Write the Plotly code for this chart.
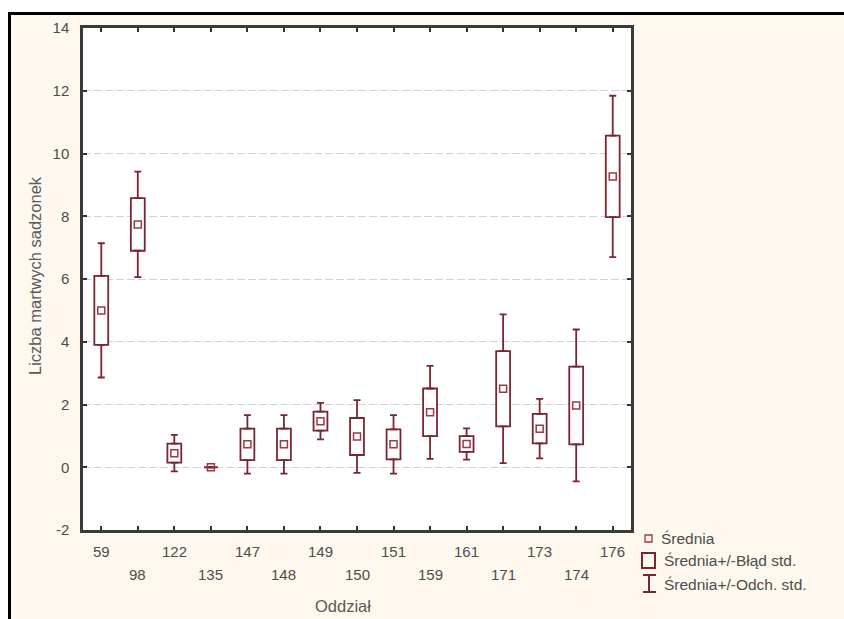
import plotly.graph_objects as go

# Mortality of seedlings per forest compartment: mean, standard error, standard deviation
oddzial = ["59", "98", "122", "135", "147", "148", "149", "150",
           "151", "159", "161", "171", "173", "174", "176"]
srednia = [5.0, 7.74, 0.45, 0.0, 0.73, 0.73, 1.47, 0.98,
           0.73, 1.75, 0.74, 2.5, 1.23, 1.97, 9.27]
blad_std = [1.1, 0.84, 0.3, 0.0, 0.5, 0.5, 0.3, 0.59,
            0.48, 0.76, 0.25, 1.2, 0.47, 1.24, 1.3]
odch_std = [2.14, 1.68, 0.58, 0.0, 0.93, 0.93, 0.58, 1.16,
            0.93, 1.48, 0.5, 2.37, 0.95, 2.42, 2.57]

y_ticks = [-2, 0, 2, 4, 6, 8, 10, 12, 14]

BOX_COLOR = "#7b2532"
MEAN_COLOR = "#9a3a45"
TEXT_COLOR = "#4d4d4d"
FONT = "Liberation Sans, Arial, sans-serif"

W, H = 844, 619
PL, PR, PT, PB = 83, 631, 28, 530


def fx(px):
    return (px - PL) / (PR - PL)


def fy(py):
    return (PB - py) / (PB - PT)


q1 = [m - s for m, s in zip(srednia, blad_std)]
q3 = [m + s for m, s in zip(srednia, blad_std)]
ext = [d - s for d, s in zip(odch_std, blad_std)]

fig = go.Figure()

# box = mean +/- SE
fig.add_trace(go.Bar(
    x=oddzial, y=[2 * s for s in blad_std], base=q1, width=0.38,
    marker=dict(color="white", line=dict(color=BOX_COLOR, width=1.8)),
    showlegend=False, hoverinfo="skip",
))

# whiskers = mean +/- SD, drawn outward from the box edges
fig.add_trace(go.Scatter(
    x=oddzial, y=q3, mode="markers", marker=dict(size=0.1, opacity=0),
    error_y=dict(type="data", array=ext, arrayminus=[0] * len(ext),
                 symmetric=False, color=BOX_COLOR, thickness=1.8, width=3.5),
    showlegend=False, hoverinfo="skip",
))
fig.add_trace(go.Scatter(
    x=oddzial, y=q1, mode="markers", marker=dict(size=0.1, opacity=0),
    error_y=dict(type="data", array=[0] * len(ext), arrayminus=ext,
                 symmetric=False, color=BOX_COLOR, thickness=1.8, width=3.5),
    showlegend=False, hoverinfo="skip",
))

fig.add_trace(go.Scatter(
    x=oddzial, y=srednia, mode="markers",
    marker=dict(symbol="square-open", size=7, color=MEAN_COLOR,
                line=dict(width=1.5, color=MEAN_COLOR)),
    showlegend=False, hoverinfo="skip",
))

annotations = []
# two-row category labels
for i, c in enumerate(oddzial):
    annotations.append(dict(
        x=i, xref="x", y=fy(551 if i % 2 == 0 else 574), yref="paper",
        text=c, showarrow=False, xanchor="center", yanchor="middle",
        font=dict(family=FONT, size=15, color=TEXT_COLOR),
    ))

annotations.append(dict(
    x=fx(343), y=fy(606), xref="paper", yref="paper", text="Oddział",
    showarrow=False, xanchor="center", yanchor="middle",
    font=dict(family=FONT, size=16.5, color="#5a5a5a"),
))
annotations.append(dict(
    x=fx(35), y=fy(276), xref="paper", yref="paper",
    text="Liczba martwych sadzonek", textangle=-90,
    showarrow=False, xanchor="center", yanchor="middle",
    font=dict(family=FONT, size=16.5, color="#5a5a5a"),
))

# legend entries
legend_items = [("Średnia", 659, 538), ("Średnia+/-Błąd std.", 662, 560),
                ("Średnia+/-Odch. std.", 662, 584)]
for txt, px, py in legend_items:
    annotations.append(dict(
        x=fx(px), y=fy(py), xref="paper", yref="paper", text=txt,
        showarrow=False, xanchor="left", yanchor="middle",
        font=dict(family=FONT, size=15.5, color=TEXT_COLOR),
    ))

shapes = [
    # white margin outside the cream frame
    dict(type="rect", xref="paper", yref="paper", x0=fx(-20), x1=fx(8),
         y0=fy(660), y1=fy(-20), fillcolor="white", line=dict(width=0), layer="below"),
    dict(type="rect", xref="paper", yref="paper", x0=fx(-20), x1=fx(880),
         y0=fy(12), y1=fy(-20), fillcolor="white", line=dict(width=0), layer="below"),
    dict(type="line", xref="paper", yref="paper", x0=fx(9), x1=fx(880),
         y0=fy(13.5), y1=fy(13.5), line=dict(color="black", width=3)),
    dict(type="line", xref="paper", yref="paper", x0=fx(9.5), x1=fx(9.5),
         y0=fy(12), y1=fy(660), line=dict(color="black", width=3)),
    # legend glyphs
    dict(type="rect", xref="paper", yref="paper", x0=fx(645), x1=fx(652),
         y0=fy(542), y1=fy(535), line=dict(color=MEAN_COLOR, width=1.3)),
    dict(type="rect", xref="paper", yref="paper", x0=fx(642), x1=fx(655),
         y0=fy(568), y1=fy(553), line=dict(color=BOX_COLOR, width=2)),
    dict(type="line", xref="paper", yref="paper", x0=fx(649), x1=fx(649),
         y0=fy(592), y1=fy(575), line=dict(color=BOX_COLOR, width=2)),
    dict(type="line", xref="paper", yref="paper", x0=fx(643), x1=fx(656),
         y0=fy(575), y1=fy(575), line=dict(color=BOX_COLOR, width=2)),
    dict(type="line", xref="paper", yref="paper", x0=fx(643), x1=fx(656),
         y0=fy(592), y1=fy(592), line=dict(color=BOX_COLOR, width=2)),
]

fig.update_layout(
    width=W, height=H,
    margin=dict(l=PL, r=W - PR, t=PT, b=H - PB, pad=0),
    paper_bgcolor="#fef8ef", plot_bgcolor="white",
    font=dict(family=FONT, color=TEXT_COLOR),
    annotations=annotations, shapes=shapes,
    xaxis=dict(
        type="category", categoryorder="array", categoryarray=oddzial,
        range=[-0.5, len(oddzial) - 0.5],
        showgrid=False, zeroline=False, showticklabels=False,
        ticks="inside", ticklen=4, tickwidth=2, tickcolor="#333",
        showline=True, linecolor="#3a3a3a", linewidth=2.5, mirror="ticks",
    ),
    yaxis=dict(
        range=[-2, 14], tickvals=y_ticks, ticktext=[str(v) for v in y_ticks],
        showgrid=True, gridcolor="#d4d4d4", gridwidth=1.2, griddash="8px,3px",
        zeroline=False,
        ticks="inside", ticklen=4, tickwidth=2, tickcolor="#333",
        ticklabelstandoff=8,
        tickfont=dict(family=FONT, size=15, color=TEXT_COLOR),
        showline=True, linecolor="#3a3a3a", linewidth=2.5, mirror="ticks",
    ),
)

fig.write_html("out.html")
